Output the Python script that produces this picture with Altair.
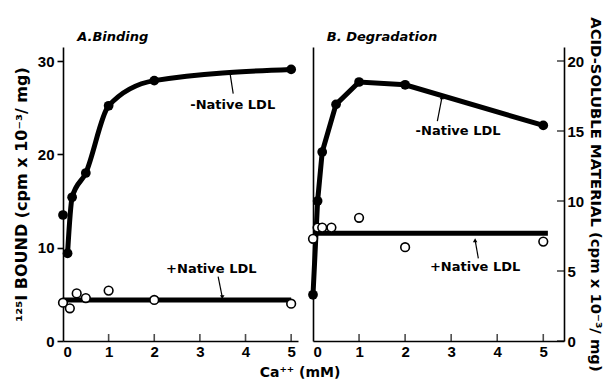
import altair as alt
import pandas as pd

NUM_FONT = "Liberation Sans"
TXT_FONT = "DejaVu Sans"

# ---------------- data ----------------
# Panel A: Binding (125I bound, cpm x 10^-3 / mg)
a_minus_ca = [0, 0.1, 0.2, 0.5, 1, 2, 5]
a_minus_val = [13.5, 9.4, 15.4, 18.0, 25.2, 27.9, 29.1]
a_plus_ca = [0, 0.15, 0.3, 0.5, 1, 2, 5]
a_plus_val = [4.1, 3.5, 5.1, 4.6, 5.4, 4.4, 4.0]
a_plus_level = 4.4
a_plus_range = [0, 5]

# Panel B: Degradation (acid-soluble material, cpm x 10^-3 / mg)
b_minus_ca = [0, 0.1, 0.2, 0.5, 1, 2, 5]
b_minus_val = [3.3, 10.0, 13.5, 16.9, 18.5, 18.3, 15.4]
b_plus_ca = [0, 0.1, 0.2, 0.4, 1, 2, 5]
b_plus_val = [7.3, 8.1, 8.1, 8.1, 8.8, 6.7, 7.1]
b_plus_level = 7.7
b_plus_range = [0, 5.1]

x_ticks = [0, 1, 2, 3, 4, 5]
x_inner_ticks = [1, 2, 3, 4, 5]
a_y_ticks = [0, 10, 20, 30]
b_y_ticks = [0, 5, 10, 15, 20]

# annotations (data coordinates)
a_labels = pd.DataFrame({"x": [3.72, 3.25], "y": [25.3, 7.7],
                         "t": ["-Native LDL", "+Native LDL"]})
a_title = pd.DataFrame({"x": [0.31], "y": [32.6], "t": ["A.Binding"]})
a_arrows = pd.DataFrame({"x": [3.73, 3.40], "y": [26.5, 6.9],
                         "x2": [3.66, 3.49], "y2": [28.7, 4.7],
                         "shape": ["triangle-up", "triangle-down"]})
b_labels = pd.DataFrame({"x": [3.15, 3.52], "y": [15.0, 5.3],
                         "t": ["-Native LDL", "+Native LDL"]})
b_title = pd.DataFrame({"x": [0.30], "y": [21.7], "t": ["B. Degradation"]})
b_arrows = pd.DataFrame({"x": [2.70, 3.59], "y": [15.7, 5.9],
                         "x2": [2.80, 3.52], "y2": [17.4, 7.2],
                         "shape": ["triangle-up", "triangle-up"]})

W_A, W_B, H = 235, 251, 294
XMAX_A, XMAX_B = 5.15, 5.45

xA = alt.Scale(domain=[0, XMAX_A], nice=False, zero=False)
yA = alt.Scale(domain=[0, 31.5], nice=False, zero=False)
xB = alt.Scale(domain=[0, XMAX_B], nice=False, zero=False)
yB = alt.Scale(domain=[0, 21], nice=False, zero=False)

x_axis = alt.Axis(title=None, values=x_ticks, ticks=False, labelPadding=3,
                  labelFont=NUM_FONT, labelFontSize=15, labelFontWeight="bold",
                  labelColor="black", domainColor="black", domainWidth=1.6,
                  grid=False, format="d", labelOverlap=False)

yA_axis = alt.Axis(title="¹²⁵I BOUND (cpm x 10⁻³/ mg)", values=a_y_ticks, tickSize=6,
                   tickWidth=1.6, tickColor="black", labelPadding=3, titlePadding=8,
                   labelFont=NUM_FONT, labelFontSize=15, labelFontWeight="bold",
                   labelColor="black", titleFont=TXT_FONT, titleFontSize=16,
                   titleFontWeight="bold", titleColor="black", domainColor="black",
                   domainWidth=1.6, grid=False, format="d", labelOverlap=False)

yB_left = alt.Axis(title=None, orient="left", labels=False, ticks=False, grid=False,
                   domainColor="black", domainWidth=1.6)
yB_right = alt.Axis(title="ACID-SOLUBLE MATERIAL (cpm x 10⁻³/ mg)", orient="right",
                    values=b_y_ticks, ticks=False, labelPadding=3, titlePadding=4,
                    labelFont=NUM_FONT, labelFontSize=15, labelFontWeight="bold",
                    labelColor="black", titleFont=TXT_FONT, titleFontSize=14.8,
                    titleFontWeight="bold", titleColor="black", domainColor="black",
                    domainWidth=1.6, grid=False, format="d", labelOverlap=False)


def panel(minus_ca, minus_val, plus_ca, plus_val, level, rng, xs, ys, xmax, width,
          labels, title_df, arrows, y_axis, line_filter, interp,
          right_axis=None, right_ticks=None):
    dm = pd.DataFrame({"ca": minus_ca, "v": minus_val})
    dp = pd.DataFrame({"ca": plus_ca, "v": plus_val})
    dl = pd.DataFrame({"x": [rng[0]], "x2": [rng[1]], "y": [level]})

    def X(f):
        return alt.X(f, scale=xs, axis=x_axis)

    def Y(f):
        return alt.Y(f, scale=ys, axis=y_axis)

    minus_line = alt.Chart(dm).transform_filter(line_filter).mark_line(
        color="black", strokeWidth=5, interpolate=interp).encode(x=X("ca:Q"), y=Y("v:Q"))
    plus_line = alt.Chart(dl).mark_rule(color="black", strokeWidth=5).encode(
        x=X("x:Q"), x2="x2:Q", y=Y("y:Q"))
    minus_pts = alt.Chart(dm).mark_point(filled=True, color="black", size=95, opacity=1).encode(
        x=X("ca:Q"), y=Y("v:Q"))
    plus_pts = alt.Chart(dp).mark_point(filled=True, fill="white", stroke="black",
                                        strokeWidth=1.6, size=75, opacity=1).encode(
        x=X("ca:Q"), y=Y("v:Q"))
    xt = alt.Chart(pd.DataFrame({"t": x_inner_ticks})).transform_calculate(base="0").mark_tick(
        orient="vertical", size=7, thickness=1.6, color="black", yOffset=-3.5).encode(
        x=X("t:Q"), y=Y("base:Q"))
    txt = alt.Chart(labels).mark_text(font=TXT_FONT, fontSize=13, fontWeight="bold",
                                      color="black", baseline="middle", align="center").encode(
        x=X("x:Q"), y=Y("y:Q"), text="t:N")
    ttl = alt.Chart(title_df).mark_text(font=TXT_FONT, fontSize=13, fontWeight="bold",
                                        fontStyle="italic", color="black",
                                        baseline="middle", align="left").encode(
        x=X("x:Q"), y=Y("y:Q"), text="t:N")
    arr = alt.Chart(arrows).mark_rule(color="black", strokeWidth=1.2).encode(
        x=X("x:Q"), x2="x2:Q", y=Y("y:Q"), y2="y2:Q")
    heads = alt.Chart(arrows).mark_point(filled=True, color="black", size=20, opacity=1).encode(
        x=X("x2:Q"), y=Y("y2:Q"),
        shape=alt.Shape("shape:N", scale=None, legend=None))
    inner = alt.layer(plus_line, minus_line, arr, heads, minus_pts, plus_pts, xt, txt, ttl)
    if right_axis is None:
        return inner.properties(width=width, height=H)
    yt = alt.Chart(pd.DataFrame({"t": right_ticks})).transform_calculate(
        xm=str(xmax)).mark_tick(
        orient="horizontal", size=7, thickness=1.6, color="black", xOffset=-3.5).encode(
        y=alt.Y("t:Q", scale=ys, axis=right_axis), x=X("xm:Q"))
    return alt.layer(inner, yt).resolve_axis(y="independent").properties(width=width, height=H)


panelA = panel(a_minus_ca, a_minus_val, a_plus_ca, a_plus_val, a_plus_level, a_plus_range,
               xA, yA, XMAX_A, W_A, a_labels, a_title, a_arrows, yA_axis, "datum.ca > 0", "monotone")
panelB = panel(b_minus_ca, b_minus_val, b_plus_ca, b_plus_val, b_plus_level, b_plus_range,
               xB, yB, XMAX_B, W_B, b_labels, b_title, b_arrows, yB_left, "true", "linear",
               right_axis=yB_right, right_ticks=b_y_ticks)

chart = alt.hconcat(panelA, panelB, spacing=1).properties(
    title=alt.TitleParams("Ca⁺⁺ (mM)", orient="bottom", anchor="middle", font=TXT_FONT,
                          fontSize=14, fontWeight="bold", color="black", offset=-5, dx=-8),
    padding={"left": 13, "right": 2, "top": 16, "bottom": 2},
    background="white",
).configure_view(stroke=None)

chart.save("out.html", embed_options={"renderer": "svg", "actions": False})
